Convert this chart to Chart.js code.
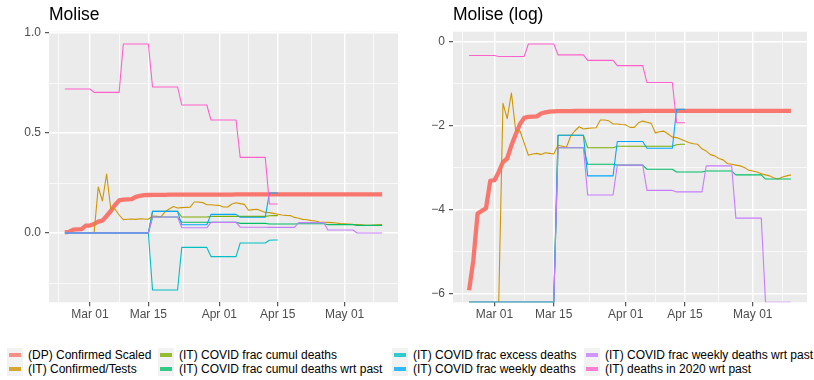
<!DOCTYPE html>
<html><head><meta charset="utf-8">
<script src="https://cdn.jsdelivr.net/npm/chart.js@4/dist/chart.umd.min.js"></script>
<style>
body{margin:0;background:#fff;width:814px;height:380px;overflow:hidden;position:relative;font-family:"Liberation Sans",Arial,sans-serif;}
.wrap{position:absolute;top:0;width:407px;height:330px;}
.title{position:absolute;top:6px;font-size:17.5px;line-height:17.5px;color:#000;white-space:nowrap;}
.lg{position:absolute;font-size:12px;line-height:14px;color:#000;white-space:nowrap;}
.key{position:absolute;width:16px;height:14px;background:#F2F2F2;}
.key i{position:absolute;left:2px;top:5px;width:12px;height:4px;opacity:0.8;}
</style></head>
<body>
<div class="wrap" style="left:0"><canvas id="c1" width="407" height="330"></canvas></div>
<div class="wrap" style="left:407px"><canvas id="c2" width="407" height="330"></canvas></div>
<div class="title" style="left:49px">Molise</div>
<div class="title" style="left:453px">Molise (log)</div>
<div id="legend"></div>
<script>
// days: index 0 = Feb 24 2020 ... index 76 = May 10 2020
const dpConfirmedScaled = [0.0027,0.0055,0.0167,0.0178,0.019,0.0365,0.037,0.045,0.057,0.062,
 0.085,0.11,0.14,0.163,0.167,0.168,0.169,0.181,0.186,0.189,
 0.19,0.191,0.191,0.191,0.191,0.192,0.192,0.192,0.192,0.192,
 0.192,0.192,0.192,0.192,0.192,0.192,0.192,0.192,0.192,0.192,
 0.192,0.193,0.193,0.193,0.193,0.193,0.193,0.193,0.193,0.193,
 0.193,0.193,0.193,0.193,0.193,0.193,0.193,0.193,0.193,0.193,
 0.193,0.193,0.193,0.193,0.193,0.193,0.193,0.193,0.193,0.193,
 0.193,0.193,0.193,0.193,0.193,0.193,0.193];
const itConfirmedTests = [null,null,null,null,null,null,null,0,0.23,0.16,
 0.295,0.12,0.12,0.09,0.067,0.069,0.07,0.068,0.071,0.07,
 0.069,0.085,0.083,0.081,0.106,0.12,0.132,0.125,0.127,0.128,
 0.129,0.155,0.155,0.152,0.141,0.141,0.139,0.138,0.13,0.13,
 0.145,0.151,0.147,0.143,0.114,0.117,0.119,0.111,0.103,0.102,
 0.098,0.094,0.09,0.088,0.087,0.078,0.074,0.068,0.066,0.062,
 0.06,0.055,0.054,0.053,0.052,0.05,0.047,0.046,0.045,0.043,
 0.042,0.041,0.039,0.038,0.04,0.041,0.042];
const itFracCumulDeaths = [0,0,0,0,0,0,0,0,0,0,
 0,0,0,0,0,0,0,0,0,0,
 0,0.108,0.108,0.108,0.108,0.108,0.108,0.108,0.08,0.08,
 0.08,0.08,0.08,0.08,0.08,0.083,0.083,0.083,0.083,0.083,
 0.083,0.083,0.083,0.083,0.083,0.083,0.083,0.083,0.083,0.086,
 0.087,0.087,null,null,null,null,null,null,null,null,
 null,null,null,null,null,null,null,null,null,null,
 null,null,null,null,null,null,null];
const itFracCumulDeathsWrtPast = [0,0,0,0,0,0,0,0,0,0,
 0,0,0,0,0,0,0,0,0,0,
 0,0.08,0.08,0.08,0.08,0.08,0.08,0.08,0.054,0.054,
 0.054,0.054,0.054,0.054,0.054,0.053,0.053,0.053,0.053,0.053,
 0.053,0.053,0.048,0.048,0.048,0.048,0.048,0.048,0.048,0.045,
 0.045,0.045,0.045,0.045,0.045,0.045,0.046,0.046,0.046,0.046,
 0.046,0.046,0.046,0.042,0.042,0.042,0.042,0.042,0.042,0.042,
 0.038,0.038,0.038,0.038,0.038,0.038,0.038];
const itFracExcessDeaths = [0,0,0,0,0,0,0,0,0,0,
 0,0,0,0,0,0,0,0,0,0,
 0,-0.285,-0.285,-0.285,-0.285,-0.285,-0.285,-0.285,-0.072,-0.072,
 -0.072,-0.072,-0.072,-0.072,-0.072,-0.118,-0.118,-0.118,-0.118,-0.118,
 -0.118,-0.118,-0.05,-0.05,-0.05,-0.05,-0.05,-0.05,-0.05,-0.036,
 -0.035,-0.035,null,null,null,null,null,null,null,null,
 null,null,null,null,null,null,null,null,null,null,
 null,null,null,null,null,null,null];
const itFracWeeklyDeaths = [0,0,0,0,0,0,0,0,0,0,
 0,0,0,0,0,0,0,0,0,0,
 0,0.108,0.108,0.108,0.108,0.108,0.108,0.108,0.041,0.041,
 0.041,0.041,0.041,0.041,0.041,0.093,0.093,0.093,0.093,0.093,
 0.093,0.093,0.079,0.079,0.079,0.079,0.079,0.079,0.079,0.2,
 0.2,0.2,null,null,null,null,null,null,null,null,
 null,null,null,null,null,null,null,null,null,null,
 null,null,null,null,null,null,null];
const itFracWeeklyDeathsWrtPast = [0,0,0,0,0,0,0,0,0,0,
 0,0,0,0,0,0,0,0,0,0,
 0,0.08,0.08,0.08,0.08,0.08,0.08,0.08,0.026,0.026,
 0.026,0.026,0.026,0.026,0.026,0.053,0.053,0.053,0.053,0.053,
 0.053,0.053,0.029,0.029,0.029,0.029,0.029,0.029,0.029,0.028,
 0.028,0.028,0.028,0.028,0.028,0.028,0.052,0.052,0.052,0.052,
 0.052,0.052,0.052,0.015,0.015,0.015,0.015,0.015,0.015,0.015,
 0,0,0,0,0,0,0];
const itDeaths2020WrtPast = [0.72,0.72,0.72,0.72,0.72,0.72,0.72,0.703,0.703,0.703,
 0.703,0.703,0.703,0.703,0.945,0.945,0.945,0.945,0.945,0.945,
 0.945,0.73,0.73,0.73,0.73,0.73,0.73,0.73,0.64,0.64,
 0.64,0.64,0.64,0.64,0.64,0.565,0.565,0.565,0.565,0.565,
 0.565,0.565,0.378,0.378,0.378,0.378,0.378,0.378,0.378,0.145,
 0.145,0.145,null,null,null,null,null,null,null,null,
 null,null,null,null,null,null,null,null,null,null,
 null,null,null,null,null,null,null];

const seriesNames = ["(DP) Confirmed Scaled","(IT) Confirmed/Tests","(IT) COVID frac cumul deaths",
 "(IT) COVID frac cumul deaths wrt past","(IT) COVID frac excess deaths","(IT) COVID frac weekly deaths",
 "(IT) COVID frac weekly deaths wrt past","(IT) deaths in 2020 wrt past"];
const seriesData = [dpConfirmedScaled,itConfirmedTests,itFracCumulDeaths,itFracCumulDeathsWrtPast,
 itFracExcessDeaths,itFracWeeklyDeaths,itFracWeeklyDeathsWrtPast,itDeaths2020WrtPast];
const seriesColors = ["#F8766D","#CD9600","#7CAE00","#00BE67","#00BFC4","#00A9FF","#C77CFF","#FF61CC"];

const xTickDays = [6,20,37,51,67];
const xTickLabels = ["Mar 01","Mar 15","Apr 01","Apr 15","May 01"];
const xMinorDays = [-1.5,13,28.5,44,59,74];
const yLinTicks = [0,0.5,1.0];
const yLinLabels = ["0.0","0.5","1.0"];
const yLinMinor = [-0.25,0.25,0.75];
const yLogTicks = [-6,-4,-2,0];
const yLogLabels = ["\u22126","\u22124","\u22122","0"];
const yLogMinor = [-5,-3,-1];

const X_MIN = -3.8, X_MAX = 79.8;
const YLIN_MIN = -0.3465, YLIN_MAX = 1.0065;
const YLOG_MIN = -6.203, YLOG_MAX = 0.237;

Chart.defaults.font.family = '"Liberation Sans", Arial, sans-serif';

const bgPlugin = {id:'bg', beforeDraw(c){const a=c.chartArea,ctx=c.ctx;ctx.save();ctx.fillStyle='#EBEBEB';ctx.fillRect(a.left,a.top,a.right-a.left,a.bottom-a.top);ctx.restore();}};

function axis(min,max,majors,labels,minors,fit,isX){
  const isMajor = v => majors.some(m=>Math.abs(m-v)<1e-9);
  return {
    type:'linear', min:min, max:max,
    afterBuildTicks: s => { s.ticks = majors.concat(minors).sort((a,b)=>a-b).map(v=>({value:v})); },
    afterFit: s => { if(isX) s.height = fit; else s.width = fit; },
    ticks:{autoSkip:false, maxRotation:0, color:'#4D4D4D', font:{size:12}, padding: isX?1:4,
      callback: v => { const i = majors.findIndex(m=>Math.abs(m-v)<1e-9); return i>=0?labels[i]:''; }},
    grid:{color:'#FFFFFF', lineWidth: c => isMajor(c.tick.value)?1.4:0.7,
      drawTicks:true, tickLength:4, tickWidth:1,
      tickColor: c => isMajor(c.tick.value)?'#333333':'rgba(0,0,0,0)'},
    border:{display:false}
  };
}

function toLog(v){ if(v===null) return null; if(v===0) return YLOG_MIN; if(v<0) return null; return Math.log(v); }

function makeChart(id, transform, yMin, yMax, yMaj, yLab, yMin2, yWidth, padRight){
  const datasets = seriesData.map((arr,k)=>({
    label: seriesNames[k],
    data: arr.map((v,i)=>({x:i, y: transform(v)})),
    borderColor: seriesColors[k],
    borderWidth: k===0?4.3:1.1,
    pointRadius:0, tension:0, spanGaps:false, clip:0,
    borderJoinStyle:'round', order: 7-k
  }));
  new Chart(document.getElementById(id),{
    type:'line', data:{datasets},
    options:{responsive:false, animation:false, devicePixelRatio:1,
      layout:{padding:{top:31.7,right:padRight,left:0,bottom:0}},
      plugins:{legend:{display:false},tooltip:{enabled:false}},
      scales:{
        x: axis(X_MIN,X_MAX,xTickDays,xTickLabels,xMinorDays,27.7,true),
        y: axis(yMin,yMax,yMaj,yLab,yMin2,yWidth,false)
      }},
    plugins:[bgPlugin]
  });
}
makeChart('c1', v=>v, YLIN_MIN, YLIN_MAX, yLinTicks, yLinLabels, yLinMinor, 49, 9);
makeChart('c2', toLog, YLOG_MIN, YLOG_MAX, yLogTicks, yLogLabels, yLogMinor, 46, 7);

// legend
const legendOrder = [0,2,4,6,1,3,5,7];
const colLeft = [28,179,413,605];
const rowTop = [348,362];
const lg = document.getElementById('legend');
legendOrder.forEach((k,j)=>{
  const col = j%4, row = Math.floor(j/4);
  const key = document.createElement('div'); key.className='key';
  key.style.left=(colLeft[col]-21)+'px'; key.style.top=rowTop[row]+'px';
  const bar=document.createElement('i'); bar.style.background=seriesColors[k]; key.appendChild(bar);
  lg.appendChild(key);
  const t=document.createElement('div'); t.className='lg'; t.textContent=seriesNames[k];
  t.style.left=colLeft[col]+'px'; t.style.top=rowTop[row]+'px';
  lg.appendChild(t);
});
</script>
</body></html>
